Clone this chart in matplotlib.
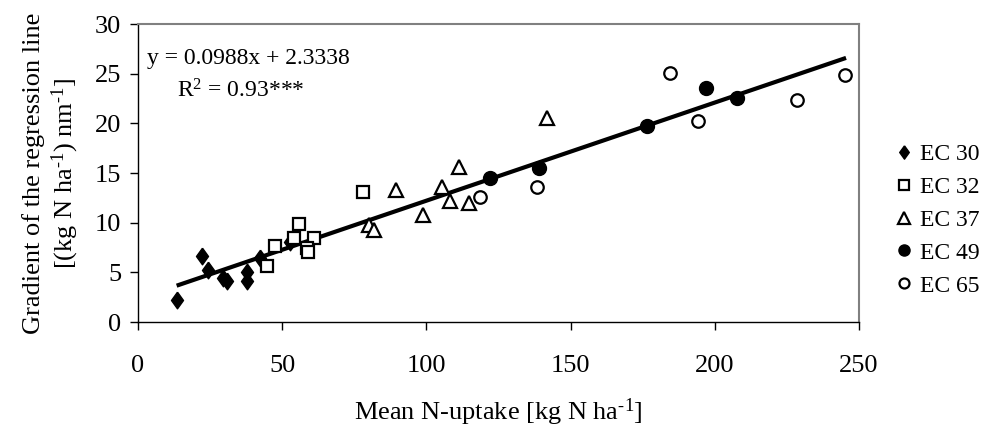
import numpy as np
import matplotlib
matplotlib.use("Agg")
import matplotlib.pyplot as plt
from matplotlib.lines import Line2D

plt.rcParams["font.family"] = ["Liberation Serif", "DejaVu Serif"]
plt.rcParams["mathtext.fontset"] = "custom"
plt.rcParams["mathtext.rm"] = "Liberation Serif"
plt.rcParams["mathtext.it"] = "Liberation Serif:italic"

# Mean N-uptake (kg N/ha) and gradient of the regression line per growth stage
ec30_x = [13.4, 22.1, 24.4, 29.6, 31.0, 37.7, 37.9, 42.3, 52.7]
ec30_y = [2.2, 6.65, 5.2, 4.4, 4.1, 5.0, 4.15, 6.4, 8.1]
ec32_x = [78.1, 55.9, 47.5, 44.8, 54.1, 60.9, 58.5, 58.9]
ec32_y = [13.1, 9.9, 7.7, 5.65, 8.45, 8.5, 7.45, 7.05]
ec37_x = [111.3, 89.3, 105.5, 108.2, 114.9, 98.9, 80.2, 81.9, 141.9]
ec37_y = [15.6, 13.3, 13.55, 12.2, 11.95, 10.8, 9.8, 9.25, 20.5]
ec49_x = [122.1, 139.1, 176.6, 196.8, 207.6]
ec49_y = [14.5, 15.5, 19.7, 23.6, 22.6]
ec65_x = [118.6, 138.2, 184.5, 194.3, 228.6, 245.1]
ec65_y = [12.6, 13.6, 25.1, 20.2, 22.4, 24.9]

slope = 0.0988
intercept = 2.3338
fit_range = [13.4, 245.5]

series_labels = ["EC 30", "EC 32", "EC 37", "EC 49", "EC 65"]

SUP = r"$^{\text{-1}}$"

fig = plt.figure(figsize=(10.08, 4.32), dpi=100)
ax = fig.add_axes([0.1369, 0.2546, 0.8522 - 0.1369, 0.9444 - 0.2546])

diamond = [(0, 1), (0.72, 0), (0, -1), (-0.72, 0), (0, 1)]

styles = [
    dict(marker=diamond, ms=12, mfc="black", mec="black", mew=1.0),
    dict(marker="s", ms=9, mfc="white", mec="black", mew=1.6),
    dict(marker="^", ms=10, mfc="white", mec="black", mew=1.6),
    dict(marker="o", ms=10, mfc="black", mec="black", mew=1.0),
    dict(marker="o", ms=9, mfc="white", mec="black", mew=1.6),
]
xs = [ec30_x, ec32_x, ec37_x, ec49_x, ec65_x]
ys = [ec30_y, ec32_y, ec37_y, ec49_y, ec65_y]

fx = np.array(fit_range)
ax.plot(fx, slope * fx + intercept, color="black", lw=3.0, zorder=3,
        solid_capstyle="butt")

for x, y, st in zip(xs, ys, styles):
    ax.plot(x, y, ls="none", zorder=4, **st)

ax.set_xlim(0, 250)
ax.set_ylim(0, 30)
ax.set_xticks([0, 50, 100, 150, 200, 250])
ax.set_yticks([0, 5, 10, 15, 20, 25, 30])
ax.tick_params(axis="both", direction="out", length=6, width=1.0,
               labelsize=19, color="black")
ax.tick_params(axis="x", pad=18)
ax.tick_params(axis="y", pad=6)

for side in ("top", "right"):
    ax.spines[side].set_color("#808080")
    ax.spines[side].set_linewidth(1.5)
for side in ("left", "bottom"):
    ax.spines[side].set_color("black")
    ax.spines[side].set_linewidth(1.0)

ax.set_xlabel("Mean N-uptake [kg N ha" + SUP + "]", fontsize=19,
              labelpad=14)
ax.set_ylabel("Gradient of the regression line\n"
              "[(kg N ha" + SUP + ") nm" + SUP + "]",
              fontsize=19, labelpad=10, linespacing=1.2)

ax.text(0.012, 0.885, "y = 0.0988x + 2.3338", transform=ax.transAxes,
        fontsize=17, ha="left", va="center")
ax.text(0.142, 0.775, r"R$^{\mathregular{2}}$ = 0.93***", transform=ax.transAxes,
        fontsize=17, ha="center", va="center")

handles = []
for st, lab in zip(styles, series_labels):
    s = dict(st)
    s["ms"] = s["ms"] * 0.8
    handles.append(Line2D([], [], ls="none", label=lab, **s))
ax.legend(handles=handles, loc="center left", bbox_to_anchor=(1.04, 0.342),
          frameon=False, fontsize=17, handlelength=0.6, handletextpad=0.35,
          labelspacing=0.48, borderaxespad=0)

fig.savefig("out.png", dpi=100)
